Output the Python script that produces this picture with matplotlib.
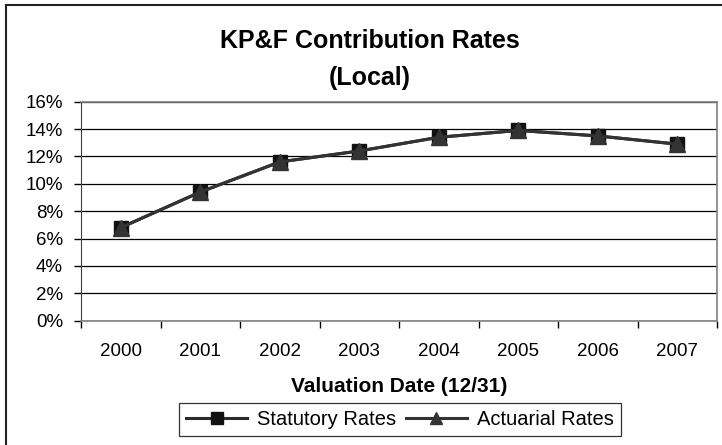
import matplotlib.pyplot as plt
from matplotlib.lines import Line2D
from matplotlib.ticker import PercentFormatter

years = ['2000', '2001', '2002', '2003', '2004', '2005', '2006', '2007']
statutory = [6.8, 9.4, 11.6, 12.4, 13.4, 13.9, 13.5, 12.9]
actuarial = [6.8, 9.4, 11.6, 12.4, 13.4, 13.9, 13.5, 12.9]

plt.rcParams['font.family'] = ['Liberation Sans', 'DejaVu Sans']

W, H = 722, 445
fig = plt.figure(figsize=(W / 100, H / 100), dpi=100)
# plot area in pixels: x 81..717, y 101.7..320.7
ax = fig.add_axes([81 / W, 1 - 320.7 / H, 636 / W, 219 / H])

x = range(len(years))
ax.plot(x, statutory, color='#2a2a2a', lw=2.2, marker='s', ms=10,
        mfc='#111111', mec='#111111', label='Statutory Rates', zorder=3)
ax.plot(x, actuarial, color='#333333', lw=2.2, marker='^', ms=11,
        mfc='#333333', mec='#333333', label='Actuarial Rates', zorder=4)

ax.set_xlim(-0.5, len(years) - 0.5)
ax.set_ylim(0, 16)
ax.set_yticks(range(0, 17, 2))
ax.yaxis.set_major_formatter(PercentFormatter(decimals=0))

# category boundaries get the tick marks, labels sit between them
ax.set_xticks([i - 0.5 for i in range(len(years) + 1)])
ax.set_xticklabels([])
ax.set_xticks(list(x), minor=True)
ax.set_xticklabels(years, minor=True, fontsize=13.5)
ax.tick_params(axis='x', which='minor', length=0, pad=16)
ax.tick_params(axis='x', which='major', length=5, width=1, direction='out')
ax.tick_params(axis='y', length=5, width=1, direction='out', labelsize=13.5, pad=8)

ax.grid(axis='y', color='black', lw=0.9)
ax.set_axisbelow(True)
for side in ['top', 'right', 'bottom']:
    ax.spines[side].set_color('#808080')
    ax.spines[side].set_linewidth(1.2)
ax.spines['left'].set_color('#404040')

fig.text(399 / W, 1 - 387 / H, 'Valuation Date (12/31)', ha='center', va='center',
         fontsize=15, fontweight='bold')
fig.text(370 / W, 1 - 41 / H, 'KP&F Contribution Rates', ha='center', va='center',
         fontsize=18, fontweight='bold')
fig.text(370 / W, 1 - 77.5 / H, '(Local)', ha='center', va='center',
         fontsize=18, fontweight='bold')

leg = ax.legend(loc='upper center', bbox_to_anchor=((400 - 81) / 636, (320.7 - 403) / 219),
                ncol=2, frameon=True, fancybox=False, edgecolor='black', fontsize=14.5,
                handlelength=3, columnspacing=0.5, handletextpad=0.5,
                borderpad=0.35, borderaxespad=0, markerscale=0.85)
leg.get_frame().set_linewidth(0.9)

# outer chart border (only the left and top edges fall inside the image)
bx, by = 5.5 / W, 1 - 5 / H
fig.add_artist(Line2D([bx, bx], [0, by], transform=fig.transFigure, color='#222222', lw=1.5))
fig.add_artist(Line2D([bx, 1], [by, by], transform=fig.transFigure, color='#222222', lw=1.5))

fig.savefig('out.png', dpi=100)
